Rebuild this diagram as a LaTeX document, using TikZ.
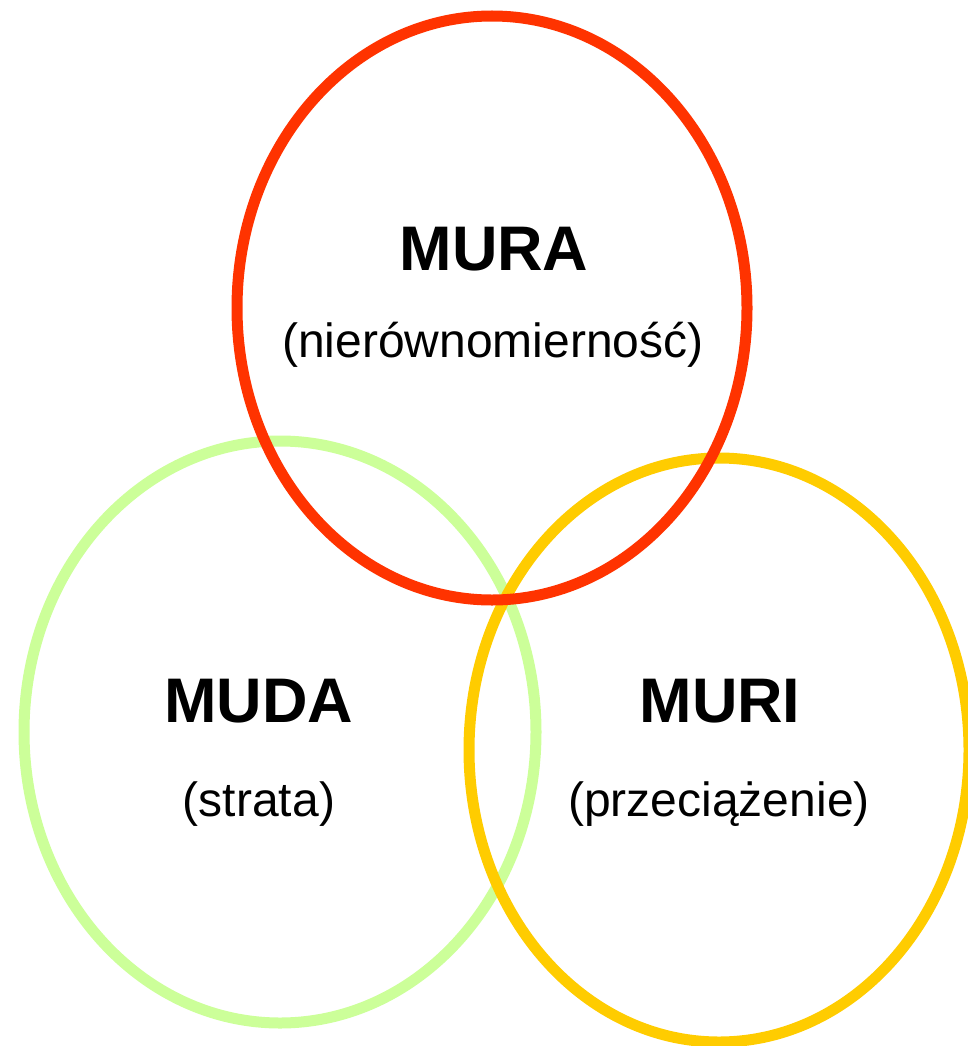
\documentclass[tikz,border=0pt]{standalone}
\usepackage{fontspec}
\setmainfont{Liberation Sans}
\definecolor{muracol}{HTML}{FF3300}
\definecolor{mudacol}{HTML}{CCFF99}
\definecolor{muricol}{HTML}{FFCC00}
\tikzset{
  ring/.style={line width=11pt},
  title/.style={anchor=base, inner sep=0pt, font=\fontsize{63}{70}\selectfont\bfseries},
  sub/.style={anchor=base, inner sep=0pt, font=\fontsize{48}{54}\selectfont}
}
\begin{document}
\begin{tikzpicture}[x=1pt,y=-1pt]
\useasboundingbox (0,0) rectangle (967,1046);
\fill[white] (0,0) rectangle (967,1046);
\draw[ring, mudacol] (280,732) ellipse [x radius=256, y radius=291];
\draw[ring, muricol] (719,750) ellipse [x radius=250, y radius=292];
\draw[ring, muracol] (492,308) ellipse [x radius=255, y radius=292];
\node[title] (mura) at (494,270) {MURA};
\node[sub] (murasub) at (493,357) {(nierównomierność)};
\node[title] (muda) at (259,722) {MUDA};
\node[sub] (mudasub) at (259,816) {(strata)};
\node[title] (muri) at (720,722) {MURI};
\node[sub] (murisub) at (719,816) {(przeciążenie)};
\end{tikzpicture}
\end{document}
